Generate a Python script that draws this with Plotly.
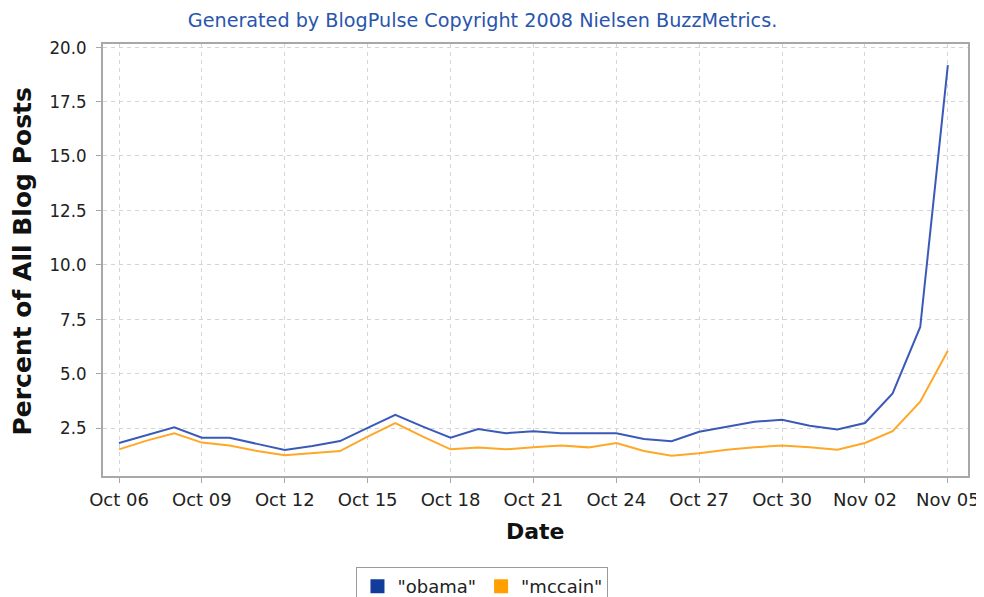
import plotly.graph_objects as go
import pandas as pd

dates = pd.date_range("2008-10-06", "2008-11-05", freq="D").strftime("%Y-%m-%d").tolist()

obama = [1.81, 2.18, 2.53, 2.05, 2.05, 1.77, 1.49, 1.67, 1.90, 2.51, 3.10,
         2.56, 2.05, 2.45, 2.26, 2.35, 2.26, 2.26, 2.26, 1.99, 1.89, 2.33,
         2.56, 2.79, 2.88, 2.60, 2.43, 2.73, 4.09, 7.14, 19.17]
mccain = [1.52, 1.92, 2.26, 1.83, 1.70, 1.44, 1.25, 1.34, 1.44, 2.10, 2.72,
          2.10, 1.52, 1.60, 1.52, 1.61, 1.70, 1.61, 1.81, 1.44, 1.23, 1.34,
          1.50, 1.61, 1.70, 1.61, 1.50, 1.81, 2.35, 3.71, 6.05]

series_names = ['"obama"', '"mccain"']
line_colors = ["#3a5ab8", "#ffa726"]
legend_colors = ["#123c9c", "#ffa000"]

title_text = "Generated by BlogPulse Copyright 2008 Nielsen BuzzMetrics."
y_title = "Percent of All Blog Posts"
x_title = "Date"

SANS = "DejaVu Sans, sans-serif"
COND = "DejaVu Sans Condensed, DejaVu Sans, sans-serif"

fig = go.Figure()
for name, vals, lc, gc in zip(series_names, [obama, mccain], line_colors, legend_colors):
    fig.add_trace(go.Scatter(x=dates, y=vals, mode="lines", name=name,
                             line=dict(color=lc, width=2), showlegend=False))
    fig.add_trace(go.Scatter(x=[None], y=[None], mode="markers", name=name,
                             marker=dict(symbol="square", size=14, color=gc)))

# The page body has an 8px margin, so the figure is 8px smaller than the window
fig.update_layout(
    width=976, height=589,
    margin=dict(l=95, r=16, t=36, b=121, autoexpand=False),
    paper_bgcolor="white", plot_bgcolor="white",
    font=dict(family=SANS, size=18, color="#222222"),
    title=dict(text=title_text, x=0.4862, xanchor="center", y=0.9796, yanchor="middle",
               font=dict(family=SANS, size=19.2, color="#2a55ad")),
    showlegend=True,
    legend=dict(orientation="h", x=0.4387, xanchor="center", y=-0.2106, yanchor="top",
                bordercolor="#9a9a9a", borderwidth=1, bgcolor="white",
                font=dict(family=SANS, size=18, color="#222222"),
                itemwidth=30, tracegroupgap=0),
    annotations=[
        dict(text=y_title, xref="paper", yref="paper", x=-0.0925, y=0.4965,
             xanchor="center", yanchor="middle", textangle=-90, showarrow=False,
             font=dict(family="DejaVu Sans", size=25, color="#111111", weight="bold")),
        dict(text=x_title, xref="paper", yref="paper", x=0.5, y=-0.1296,
             xanchor="center", yanchor="middle", showarrow=False,
             font=dict(family="DejaVu Sans", size=22, color="#111111", weight="bold")),
    ],
)

fig.update_xaxes(
    type="date", range=["2008-10-05 10:06", "2008-11-05 17:30"],
    tick0="2008-10-06", dtick=3 * 86400000, tickformat="%b %d",
    showline=True, mirror=True, linecolor="#a8a8a8", linewidth=1.5,
    ticks="outside", ticklen=5, tickcolor="#a8a8a8", ticklabelstandoff=2,
    showgrid=True, gridcolor="#d4d4d4", griddash="4px,4px", gridwidth=1,
    zeroline=False, tickfont=dict(family=SANS, size=18, color="#222222"),
)
fig.update_yaxes(
    range=[0.295, 20.14], tick0=0, dtick=2.5, tickformat=".1f",
    showline=True, mirror=True, linecolor="#a8a8a8", linewidth=1.5,
    ticks="outside", ticklen=5, tickcolor="#a8a8a8", ticklabelstandoff=6,
    showgrid=True, gridcolor="#d4d4d4", griddash="4px,4px", gridwidth=1,
    zeroline=False, tickfont=dict(family=COND, size=18.5, color="#222222"),
)

fig.write_html("out.html")
